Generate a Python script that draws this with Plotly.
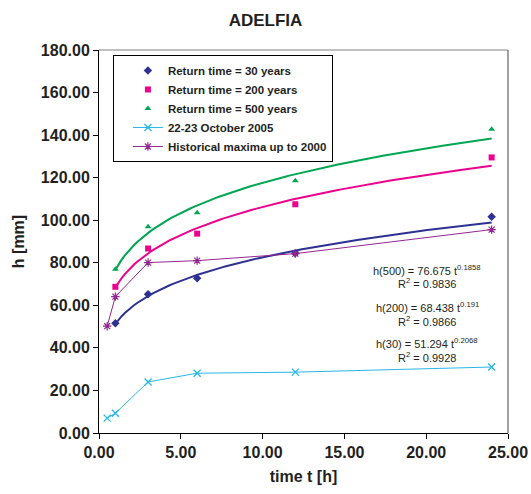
import numpy as np
import plotly.graph_objects as go

# ---- data ----
t_rt = [1, 3, 6, 12, 24]
h_30 = [51.6, 65.2, 72.7, 84.5, 101.6]
h_200 = [68.7, 86.7, 93.7, 107.5, 129.5]
h_500 = [77.0, 96.9, 103.5, 118.5, 142.8]

t_obs = [0.5, 1, 3, 6, 12, 24]
h_oct2005 = [7.0, 9.3, 24.0, 28.1, 28.6, 31.0]
h_hist = [50.2, 64.1, 80.1, 81.0, 84.3, 95.6]

# power-law trend coefficients shown on the chart: h = a * t^b
fit_a = {"500": 76.675, "200": 68.438, "30": 51.294}
fit_b = {"500": 0.1858, "200": 0.191, "30": 0.2068}
fit_r2 = {"500": "0.9836", "200": "0.9866", "30": "0.9928"}

x_ticks = [0, 5, 10, 15, 20, 25]
y_ticks = [0, 20, 40, 60, 80, 100, 120, 140, 160, 180]

C30 = "#2E3192"
C200 = "#EC008C"
C500 = "#00A651"
CCYAN = "#29B6E8"
CPURP = "#92278F"
TXT = "#231F20"
FONT = "Liberation Sans, Arial"

t_fit = np.linspace(1, 24, 120)

fig = go.Figure()

for key, col in (("500", C500), ("200", C200), ("30", C30)):
    fig.add_trace(go.Scatter(x=t_fit, y=fit_a[key] * t_fit ** fit_b[key], mode="lines",
                             line=dict(color=col, width=2), showlegend=False, hoverinfo="skip"))

fig.add_trace(go.Scatter(x=t_rt, y=h_30, mode="markers", name="Return time = 30 years",
                         marker=dict(symbol="diamond", size=6.5, color=C30)))
fig.add_trace(go.Scatter(x=t_rt, y=h_200, mode="markers", name="Return time = 200 years",
                         marker=dict(symbol="square", size=6, color=C200)))
fig.add_trace(go.Scatter(x=t_rt, y=h_500, mode="markers", name="Return time = 500 years",
                         marker=dict(symbol="triangle-up", size=6, color=C500)))
fig.add_trace(go.Scatter(x=t_obs, y=h_oct2005, mode="lines+markers", name="22-23 October 2005",
                         line=dict(color=CCYAN, width=1),
                         marker=dict(symbol="x-thin-open", size=7, color=CCYAN, line=dict(width=1.3, color=CCYAN))))
fig.add_trace(go.Scatter(x=t_obs, y=h_hist, mode="lines+markers", name="Historical maxima up to 2000",
                         line=dict(color=CPURP, width=1),
                         marker=dict(symbol="asterisk-open", size=7, color=CPURP, line=dict(width=1.2, color=CPURP))))

ann = []
rows = [("500", 76.6, 70.5), ("200", 59.2, 52.6), ("30", 42.3, 35.7)]
for key, y1, y2 in rows:
    ann.append(dict(x=20.05, y=y1, xref="x", yref="y", showarrow=False,
                    text=f"h({key}) = {fit_a[key]:g} t<sup>{fit_b[key]:g}</sup>",
                    font=dict(family=FONT, size=11, color=TXT)))
    ann.append(dict(x=20.05, y=y2, xref="x", yref="y", showarrow=False,
                    text=f"R<sup>2</sup> = {fit_r2[key]}",
                    font=dict(family=FONT, size=11, color=TXT)))

fig.update_layout(
    width=531, height=494,
    margin=dict(l=99, r=23, t=50, b=61),
    paper_bgcolor="white", plot_bgcolor="white",
    font=dict(family=FONT, color=TXT),
    title=dict(text="<b>ADELFIA</b>", x=0.5, xref="container", xanchor="center", y=0.96, yanchor="middle",
               font=dict(size=17, color=TXT)),
    showlegend=True,
    legend=dict(x=0.034, y=0.987, xanchor="left", yanchor="top", bgcolor="white",
                bordercolor="black", borderwidth=1, tracegroupgap=0,
                font=dict(size=11.5, color=TXT, family=FONT),
                indentation=14, itemwidth=30),
    annotations=ann,
    shapes=[
        dict(type="line", xref="paper", yref="paper", x0=0, x1=1, y0=1, y1=1, line=dict(color="#808080", width=1)),
        dict(type="line", xref="paper", yref="paper", x0=1, x1=1, y0=0, y1=1, line=dict(color="#808080", width=1.5)),
    ],
)

# bold legend text
for tr in fig.data:
    if tr.name:
        tr.name = f"<b>{tr.name}</b>"

fig.update_xaxes(range=[0, 25], tickvals=x_ticks, ticktext=[f"{v:.2f}" for v in x_ticks],
                 showgrid=False, zeroline=False, showline=True, linecolor="black", linewidth=1,
                 ticks="outside", ticklen=5, tickcolor="black", automargin=False,
                 tickfont=dict(size=16, color=TXT, family=FONT, weight="bold"),
                 title=dict(text="<b>time t [h]</b>", font=dict(size=16, color=TXT), standoff=10))
fig.update_yaxes(range=[0, 180], tickvals=y_ticks, ticktext=[f"{v:.2f}" for v in y_ticks],
                 showgrid=False, zeroline=False, showline=True, linecolor="black", linewidth=1,
                 ticks="outside", ticklen=5, tickcolor="black", automargin=False,
                 tickfont=dict(size=16, color=TXT, family=FONT, weight="bold"),
                 title=dict(text="<b>h [mm]</b>", font=dict(size=16, color=TXT), standoff=12))

fig.write_html("out.html")
